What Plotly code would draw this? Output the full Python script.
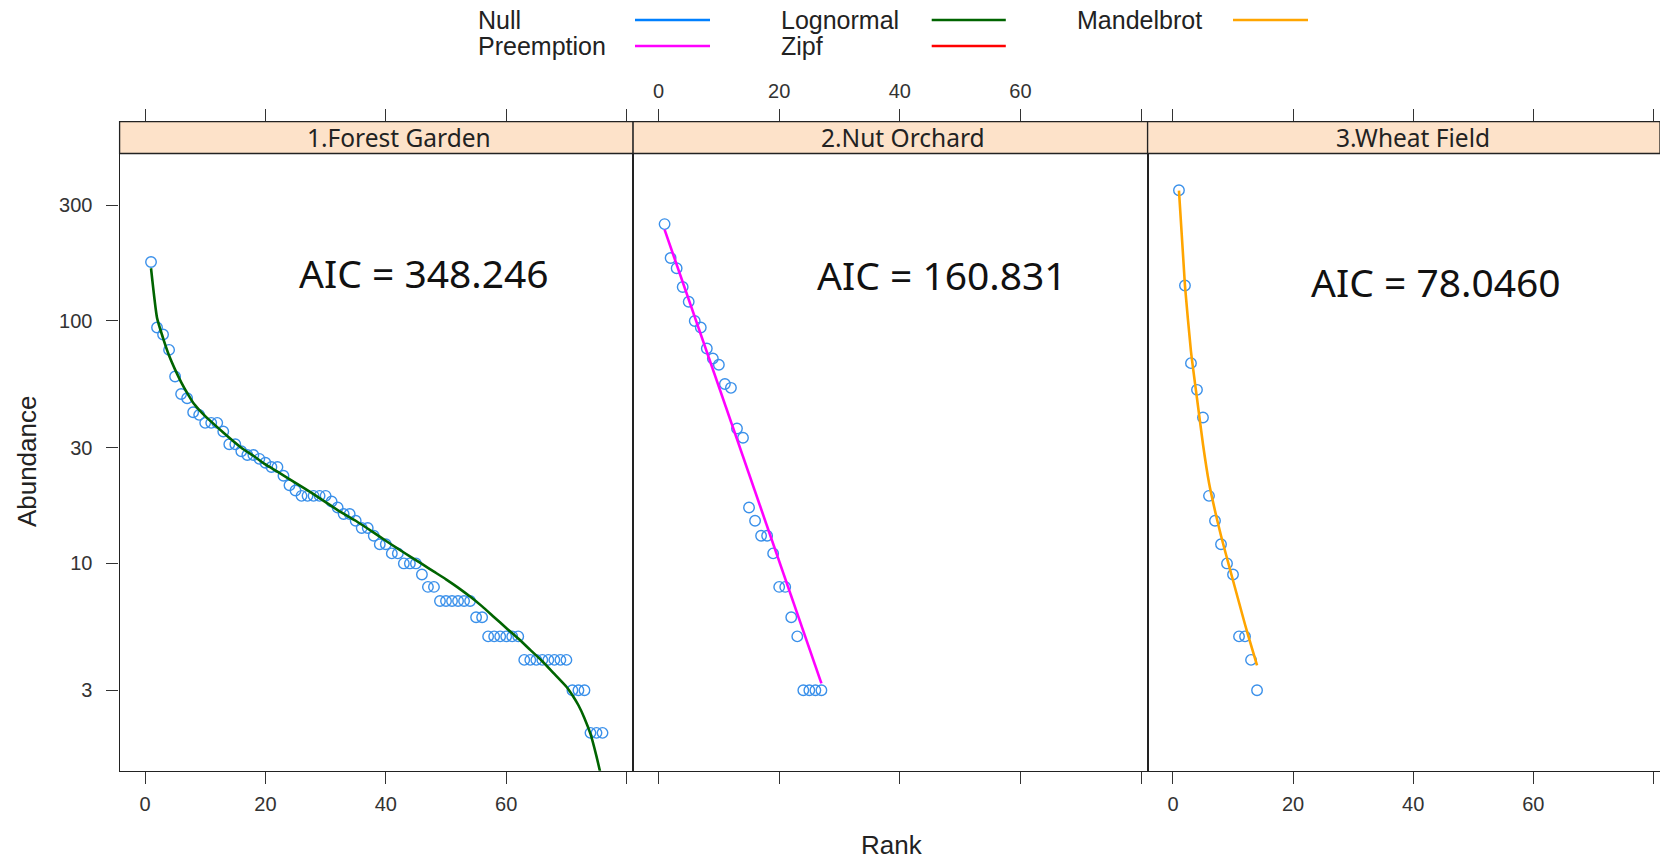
import plotly.graph_objects as go

W, H = 1660, 862

# ---------------- data ----------------
panel_titles = ["1.Forest Garden", "2.Nut Orchard", "3.Wheat Field"]
aic_labels = ["AIC = 348.246", "AIC = 160.831", "AIC = 78.0460"]

forest_abund = [175, 94, 88, 76, 59, 50, 48, 42, 41, 38, 38, 38, 35, 31, 31, 29, 28, 28, 27, 26,
                25, 25, 23, 21, 20, 19, 19, 19, 19, 19, 18, 17, 16, 16, 15, 14, 14, 13, 12, 12,
                11, 11, 10, 10, 10, 9, 8, 8, 7, 7, 7, 7, 7, 7, 6, 6, 5, 5, 5, 5,
                5, 5, 4, 4, 4, 4, 4, 4, 4, 4, 3, 3, 3, 2, 2, 2]
forest_rank = list(range(1, len(forest_abund) + 1))

orchard_abund = [251, 182, 165, 138, 120, 100, 94, 77, 70, 66, 55, 53, 36, 33, 17, 15, 13, 13,
                 11, 8, 8, 6, 5, 3, 3, 3, 3]
orchard_rank = list(range(1, len(orchard_abund) + 1))

wheat_abund = [346, 140, 67, 52, 40, 19, 15, 12, 10, 9, 5, 5, 4, 3]
wheat_rank = list(range(1, len(wheat_abund) + 1))

lognormal_rank = [1, 2, 3, 4, 5, 6, 7, 8, 9, 10, 12, 14, 16, 18, 20, 22, 25, 28, 30, 32, 35, 38,
                  40, 42, 44, 46, 48, 50, 52, 54, 56, 58, 60, 62, 64, 66, 68, 70, 71, 72, 73,
                  74, 75, 76]
lognormal_fit = [165, 103, 85, 72, 63, 56, 50.5, 46, 43, 40.5, 36.5, 33, 30, 27.8, 25.6, 23.9,
                 21.5, 19.3, 17.9, 16.6, 15.0, 13.4, 12.4, 11.5, 10.7, 9.95, 9.25, 8.6, 7.95,
                 7.3, 6.65, 6.0, 5.42, 4.9, 4.4, 3.95, 3.5, 3.1, 2.86, 2.6, 2.3, 1.98, 1.6, 1.25]

preemption_rank = [1, 27]
preemption_fit = [238, 3.2]

mandelbrot_rank = list(range(1, 15))
mandelbrot_fit = [345, 140, 75, 48, 31, 21.5, 16.5, 13, 10.5, 8.5, 6.9, 5.6, 4.6, 3.8]

legend_names = ["Null", "Preemption", "Lognormal", "Zipf", "Mandelbrot"]
legend_colors = ["#0080ff", "#ff00ff", "#006400", "#ff0000", "#ffa500"]

x_ticks = [0, 20, 40, 60, 80]
x_ticktext = ["0", "20", "40", "60", ""]
y_ticks = [3, 10, 30, 100, 300]
y_ticktext = ["3", "10", "30", "100", "300"]

# ---------------- layout geometry (pixels) ----------------
px_left = [119.6, 633.1, 1147.6]
px_right = [633.1, 1147.6, 1660.0]
px_strip_top = 121.7
px_panel_top = 153.5
px_bottom = 770.7
x_range = [-4.22, 81.08]
y_range = [0.145, 2.822]  # log10

def fx(p):
    return p / W

def fy(p):
    return 1 - p / H

POINT_COLOR = "#3a90ea"
AX_COLOR = "#222222"
TICK_COLOR = "#333333"
TICK_FONT = dict(family="Liberation Sans, Arial, sans-serif", size=20, color="#333333")

fig = go.Figure()

point_sets = [(forest_rank, forest_abund), (orchard_rank, orchard_abund), (wheat_rank, wheat_abund)]
fit_sets = [(lognormal_rank, lognormal_fit, "#006400", "Lognormal"),
            (preemption_rank, preemption_fit, "#ff00ff", "Preemption"),
            (mandelbrot_rank, mandelbrot_fit, "#ffa500", "Mandelbrot")]

for i in range(3):
    xa = "x" if i == 0 else f"x{i+1}"
    ya = "y" if i == 0 else f"y{i+1}"
    r, a = point_sets[i]
    fig.add_trace(go.Scatter(x=r, y=a, mode="markers", xaxis=xa, yaxis=ya, showlegend=False,
                             marker=dict(symbol="circle-open", size=10.5, color=POINT_COLOR,
                                         line=dict(width=1.4, color=POINT_COLOR))))
    fr, fv, col, nm = fit_sets[i]
    fig.add_trace(go.Scatter(x=fr, y=fv, mode="lines", xaxis=xa, yaxis=ya, showlegend=False,
                             name=nm, line=dict(color=col, width=2.6, shape="spline", smoothing=0.5)))

layout = dict(
    width=W, height=H,
    margin=dict(l=0, r=0, t=0, b=0),
    paper_bgcolor="white", plot_bgcolor="white",
    showlegend=False,
)

for i in range(3):
    xkey = "xaxis" if i == 0 else f"xaxis{i+1}"
    ykey = "yaxis" if i == 0 else f"yaxis{i+1}"
    ya = "y" if i == 0 else f"y{i+1}"
    xa = "x" if i == 0 else f"x{i+1}"
    layout[xkey] = dict(
        domain=[fx(px_left[i]), fx(px_right[i])], anchor=ya, range=x_range,
        tickvals=x_ticks, ticktext=x_ticktext, showticklabels=(i != 1),
        ticks="outside", ticklen=12, tickwidth=1.3, tickcolor=TICK_COLOR,
        showline=True, linecolor=AX_COLOR, linewidth=1.3, mirror="ticks",
        showgrid=False, zeroline=False, tickfont=TICK_FONT, ticklabelstandoff=3,
    )
    layout[ykey] = dict(
        domain=[fy(px_bottom), fy(px_strip_top)], anchor=xa, type="log", range=y_range,
        tickvals=y_ticks, ticktext=y_ticktext, showticklabels=(i == 0),
        ticks="outside" if i == 0 else "", ticklen=12, tickwidth=1.3, tickcolor=TICK_COLOR,
        showline=True, linecolor=AX_COLOR, linewidth=1.3, mirror=True,
        showgrid=False, zeroline=False, tickfont=TICK_FONT, ticklabelstandoff=10,
    )

# top labels for middle panel
layout["xaxis4"] = dict(
    overlaying="x2", side="top", anchor="y2", range=x_range,
    tickvals=x_ticks, ticktext=x_ticktext, ticks="outside", ticklen=12, tickwidth=1.3,
    tickcolor=TICK_COLOR, showline=False, ticklabelstandoff=3,
    showgrid=False, zeroline=False, tickfont=TICK_FONT,
)
fig.add_trace(go.Scatter(x=[None], y=[None], xaxis="x4", yaxis="y2", showlegend=False))

fig.update_layout(**layout)

shapes = []
annotations = []
strip_label_x = [398.6, 902.5, 1413.4]
for i in range(3):
    shapes.append(dict(type="rect", xref="paper", yref="paper",
                       x0=fx(px_left[i]), x1=fx(px_right[i]),
                       y0=fy(px_panel_top), y1=fy(px_strip_top),
                       fillcolor="#fde2c9", line=dict(color=AX_COLOR, width=1.3), layer="above"))
    annotations.append(dict(xref="paper", yref="paper",
                            x=fx(strip_label_x[i]), y=fy((px_strip_top + px_panel_top) / 2),
                            text=panel_titles[i], showarrow=False, xanchor="center", yanchor="middle",
                            font=dict(family="Noto Sans, Open Sans, sans-serif", size=24.5, color="#222222")))

aic_pos = [(424.5, 273), (942, 275), (1436, 281.6)]
for i in range(3):
    annotations.append(dict(xref="paper", yref="paper", x=fx(aic_pos[i][0]), y=fy(aic_pos[i][1]),
                            text=aic_labels[i], showarrow=False, xanchor="center", yanchor="middle",
                            font=dict(family="Noto Sans, Open Sans, sans-serif", size=39, color="#111111")))

# axis titles
annotations.append(dict(xref="paper", yref="paper", x=fx(892), y=fy(845), text="Rank", showarrow=False,
                        xanchor="center", yanchor="middle",
                        font=dict(family="Liberation Sans, Arial, sans-serif", size=26, color="#222222")))
annotations.append(dict(xref="paper", yref="paper", x=fx(26.5), y=fy(461.6), text="Abundance", showarrow=False,
                        xanchor="center", yanchor="middle", textangle=-90,
                        font=dict(family="Liberation Sans, Arial, sans-serif", size=26, color="#222222")))

# manual legend
leg = [
    (legend_names[0], legend_colors[0], 476.0, 20.0, 635, 710),
    (legend_names[1], legend_colors[1], 476.0, 46.0, 635, 710),
    (legend_names[2], legend_colors[2], 779.0, 20.0, 931.7, 1005.8),
    (legend_names[3], legend_colors[3], 779.0, 46.0, 931.7, 1005.8),
    (legend_names[4], legend_colors[4], 1075.0, 20.0, 1233, 1308),
]
for name, col, tx, ty, lx0, lx1 in leg:
    annotations.append(dict(xref="paper", yref="paper", x=fx(tx), y=fy(ty), text=name, showarrow=False,
                            xanchor="left", yanchor="middle",
                            font=dict(family="Liberation Sans, Arial, sans-serif", size=25, color="#222222")))
    shapes.append(dict(type="line", xref="paper", yref="paper", x0=fx(lx0), x1=fx(lx1),
                       y0=fy(ty), y1=fy(ty), line=dict(color=col, width=2.6)))

fig.update_layout(shapes=shapes, annotations=annotations)

fig.write_html("out.html")
